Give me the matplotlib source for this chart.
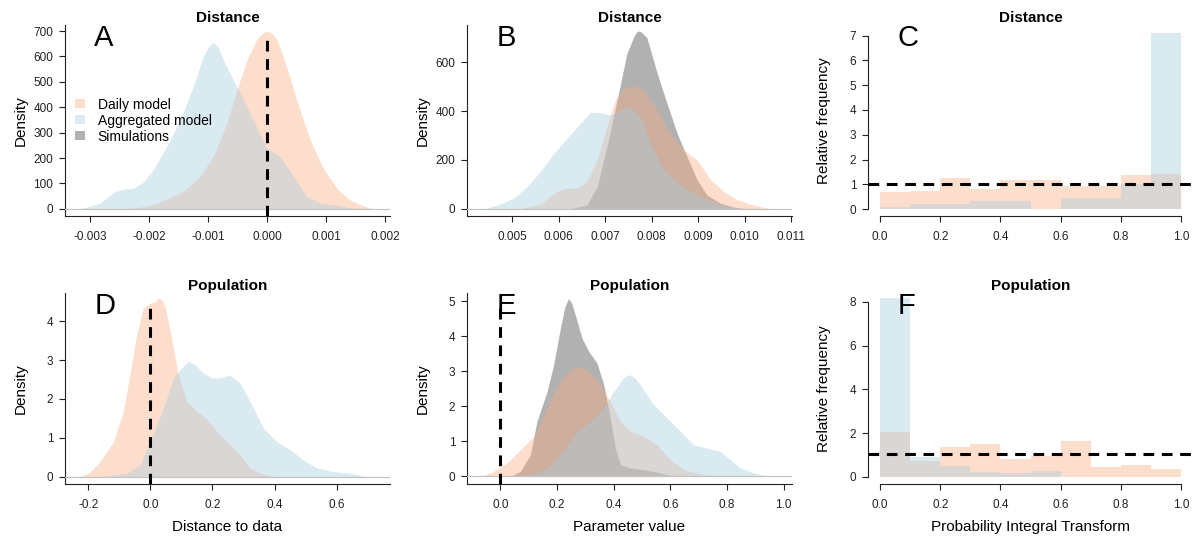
import matplotlib
matplotlib.use("Agg")
import matplotlib.pyplot as plt
from matplotlib.patches import Patch
from matplotlib.ticker import FormatStrFormatter

plt.rcParams['font.family'] = ['Liberation Sans', 'DejaVu Sans']
plt.rcParams['axes.unicode_minus'] = False

# ---- data ----
series_names = ["Daily model", "Aggregated model", "Simulations"]

# A: Distance (distance to data)
a_daily_x = [-0.00238, -0.00198, -0.0017, -0.00142, -0.00114, -0.00091, -0.00068, -0.00051, -0.00034,
             -0.00018, -0.00009, -0.00001, 0.00007, 0.00016, 0.00033, 0.0005, 0.00073, 0.00095, 0.00118,
             0.0014, 0.00163, 0.00177]
a_daily_y = [0, 12, 38, 68, 127, 206, 337, 470, 586, 664, 690, 700, 693, 671, 560, 429, 271, 160, 81, 35, 12, 0]
a_aggr_x = [-0.00317, -0.00283, -0.0026, -0.00244, -0.00227, -0.0021, -0.00193, -0.0017, -0.00147, -0.00125,
            -0.00108, -0.00099, -0.00091, -0.00083, -0.00074, -0.00057, -0.0004, -0.00018, -0.00001, 0.00022,
            0.00045, 0.00067, 0.0009, 0.00112, 0.00135, 0.00158]
a_aggr_y = [0, 22, 65, 77, 81, 104, 153, 245, 350, 481, 599, 640, 654, 638, 586, 507, 429, 324, 239, 206,
            127, 48, 22, 16, 7, 0]

# B: Distance (parameter value)
b_daily_x = [0.00518, 0.00561, 0.0059, 0.00611, 0.0064, 0.00661, 0.00683, 0.00704, 0.00722, 0.0074, 0.00762,
             0.00783, 0.00812, 0.0084, 0.00869, 0.00898, 0.00927, 0.00955, 0.00984, 0.0102, 0.01056]
b_daily_y = [0, 20, 64, 82, 85, 112, 200, 337, 446, 493, 504, 487, 405, 309, 241, 200, 119, 71, 37, 16, 0]
b_aggr_x = [0.00439, 0.00475, 0.00504, 0.00532, 0.00561, 0.0059, 0.00618, 0.00647, 0.00668, 0.0069, 0.00711,
            0.00733, 0.00754, 0.00776, 0.00797, 0.00826, 0.00855, 0.00884, 0.00912, 0.00941, 0.0097, 0.00998]
b_aggr_y = [0, 20, 44, 91, 153, 228, 289, 350, 394, 394, 384, 405, 416, 378, 269, 160, 105, 71, 44, 23, 10, 0]
b_sim_x = [0.00625, 0.00661, 0.00683, 0.00704, 0.00726, 0.00747, 0.00762, 0.00767, 0.00772, 0.00779, 0.0079,
           0.00812, 0.00833, 0.00855, 0.00876, 0.00898, 0.00919, 0.00948, 0.00977, 0.01005]
b_sim_y = [0, 16, 91, 255, 446, 637, 705, 722, 728, 722, 700, 555, 432, 309, 214, 119, 57, 23, 7, 0]

# D: Population (distance to data)
d_daily_x = [-0.227, -0.195, -0.162, -0.119, -0.087, -0.066, -0.044, -0.023, -0.001, 0.014, 0.0255, 0.037,
             0.047, 0.068, 0.09, 0.117, 0.149, 0.181, 0.213, 0.256, 0.289, 0.321, 0.364, 0.407]
d_daily_y = [0, 0.11, 0.39, 0.9, 1.68, 2.62, 3.66, 4.34, 4.47, 4.5, 4.6, 4.55, 4.39, 3.57, 2.62, 1.94, 1.68,
             1.5, 1.16, 0.82, 0.56, 0.22, 0.06, 0]
d_aggr_x = [-0.162, -0.076, -0.033, 0.009, 0.042, 0.074, 0.101, 0.122, 0.144, 0.17, 0.197, 0.224, 0.256, 0.289,
            0.321, 0.364, 0.407, 0.45, 0.493, 0.536, 0.589, 0.643, 0.697]
d_aggr_y = [0, 0.09, 0.3, 1.08, 1.76, 2.54, 2.8, 2.97, 2.88, 2.67, 2.54, 2.55, 2.61, 2.41, 1.94, 1.25, 0.9,
            0.69, 0.43, 0.22, 0.13, 0.09, 0]

# E: Population (parameter value)
e_daily_x = [-0.065, -0.024, 0.024, 0.071, 0.118, 0.153, 0.188, 0.224, 0.259, 0.288, 0.318, 0.353, 0.388,
             0.424, 0.459, 0.506, 0.553, 0.6, 0.647, 0.706, 0.765]
e_daily_y = [0, 0.14, 0.38, 0.76, 1.14, 1.76, 2.38, 2.86, 3.1, 3.11, 2.95, 2.62, 2.14, 1.57, 1.29, 1.14, 0.9,
             0.48, 0.19, 0.07, 0]
e_aggr_x = [0.047, 0.118, 0.176, 0.224, 0.271, 0.318, 0.365, 0.4, 0.435, 0.447, 0.459, 0.476, 0.494, 0.541,
            0.588, 0.635, 0.682, 0.729, 0.776, 0.812, 0.847, 0.894, 0.941]
e_aggr_y = [0, 0.07, 0.29, 0.76, 1.29, 1.57, 1.95, 2.43, 2.81, 2.88, 2.9, 2.8, 2.62, 2.05, 1.67, 1.29, 0.9,
            0.81, 0.71, 0.48, 0.24, 0.1, 0]
e_sim_x = [0.035, 0.071, 0.106, 0.129, 0.165, 0.188, 0.212, 0.228, 0.24, 0.252, 0.265, 0.288, 0.312, 0.341,
           0.365, 0.388, 0.406, 0.424, 0.459, 0.506, 0.553, 0.612]
e_sim_y = [0, 0.14, 0.62, 1.57, 2.43, 3.19, 4.24, 4.85, 5.08, 4.95, 4.6, 3.95, 3.57, 3.24, 2.62, 1.67, 0.81,
           0.33, 0.24, 0.19, 0.12, 0]

# C / F: PIT histograms, bins of 0.1
pit_edges = [0.0, 0.1, 0.2, 0.3, 0.4, 0.5, 0.6, 0.7, 0.8, 0.9]
c_daily = [0.67, 0.72, 1.25, 0.83, 1.16, 1.16, 0.95, 0.95, 1.37, 1.4]
c_aggr = [0.1, 0.22, 0.22, 0.33, 0.33, 0.0, 0.45, 0.45, 1.0, 7.1]
f_daily = [2.05, 0.75, 1.35, 1.5, 0.84, 0.97, 1.66, 0.46, 0.53, 0.37]
f_aggr = [8.17, 0.91, 0.49, 0.23, 0.2, 0.27, 0.0, 0.0, 0.0, 0.0]

observed = 0.0
uniform_c = 1.0
uniform_f = 1.05

# ---- styles ----
col_daily = (250/255, 170/255, 128/255, 0.4)
col_aggr = (168/255, 205/255, 222/255, 0.42)
col_sim = (62/255, 62/255, 62/255, 0.4)
zero_col = '#c4c4c4'
tick_fs = 8.5
lab_fs = 11

fig = plt.figure(figsize=(11.94, 5.36), dpi=100)
W, H = 1194, 536
lefts = [65, 467, 868]
tops = [25, 293]
aw, ah = 325, 191


def make_ax(row, col):
    return fig.add_axes([lefts[col] / W, (H - tops[row] - ah) / H, aw / W, ah / H])


def style(ax, title, letter, ylabel, xlabel=None):
    for s in ['top', 'right']:
        ax.spines[s].set_visible(False)
    for s in ['left', 'bottom']:
        ax.spines[s].set_linewidth(0.8)
        ax.spines[s].set_color('#222222')
    ax.tick_params(length=4.5, width=0.8, labelsize=tick_fs, colors='#222222')
    ax.tick_params(axis='x', pad=6)
    ax.tick_params(axis='y', pad=4)
    ax.set_title(title, fontsize=11, fontweight='bold', pad=1)
    ax.text(0.09, 0.93, letter, transform=ax.transAxes, fontsize=21, ha='left', va='center')
    ax.set_ylabel(ylabel, fontsize=lab_fs)
    ax.yaxis.set_label_coords(-0.115, 0.5)
    if xlabel:
        ax.set_xlabel(xlabel, fontsize=lab_fs)
        ax.xaxis.set_label_coords(0.5, -0.19)


def density_panel(ax, curves, xlim, ylim, xticks, yticks, fmt, vline_top=None):
    for (x, y, c) in curves:
        ax.fill_between(x, 0, y, color=c, linewidth=0)
    ax.axhline(0, color=zero_col, lw=0.9, zorder=3)
    if vline_top is not None:
        ax.vlines(observed, ylim[0], vline_top, colors='black', linestyles=(0, (3.5, 2.5)), lw=2.2, zorder=4)
    ax.set_xlim(xlim)
    ax.set_ylim(ylim)
    ax.set_xticks(xticks)
    ax.set_yticks(yticks)
    ax.xaxis.set_major_formatter(FormatStrFormatter(fmt))


def hist_panel(ax, daily, aggr, hline, ylim, yticks):
    ax.bar(pit_edges, daily, width=0.1, align='edge', color=col_daily, linewidth=0)
    ax.bar(pit_edges, aggr, width=0.1, align='edge', color=col_aggr, linewidth=0)
    ax.axhline(hline, color='black', linestyle=(0, (3.5, 2.5)), lw=2.2, zorder=4)
    ax.set_xlim(-0.04, 1.04)
    ax.set_ylim(ylim)
    ax.set_xticks([0, 0.2, 0.4, 0.6, 0.8, 1.0])
    ax.set_yticks(yticks)
    ax.spines['bottom'].set_bounds(0, 1)
    ax.spines['left'].set_bounds(yticks[0], yticks[-1])
    ax.xaxis.set_major_formatter(FormatStrFormatter('%.1f'))


# A
ax = make_ax(0, 0)
density_panel(ax, [(a_daily_x, a_daily_y, col_daily), (a_aggr_x, a_aggr_y, col_aggr)],
              (-0.00342, 0.00208), (-28, 724), [-0.003, -0.002, -0.001, 0, 0.001, 0.002],
              range(0, 701, 100), '%.3f', vline_top=690)
style(ax, "Distance", "A", "Density")
handles = [Patch(facecolor=col_daily, linewidth=0), Patch(facecolor=col_aggr, linewidth=0),
           Patch(facecolor=col_sim, linewidth=0)]
ax.legend(handles, series_names, loc='upper left', bbox_to_anchor=(0.03, 0.62), frameon=False,
          fontsize=10, labelspacing=0.15, handlelength=0.75, handleheight=0.6, handletextpad=0.9,
          borderpad=0, borderaxespad=0)

# B
ax = make_ax(0, 1)
density_panel(ax, [(b_sim_x, b_sim_y, col_sim), (b_daily_x, b_daily_y, col_daily), (b_aggr_x, b_aggr_y, col_aggr)],
              (0.00403, 0.01102), (-29, 752), [0.005, 0.006, 0.007, 0.008, 0.009, 0.010, 0.011],
              [0, 200, 400, 600], '%.3f')
style(ax, "Distance", "B", "Density")

# C
ax = make_ax(0, 2)
hist_panel(ax, c_daily, c_aggr, uniform_c, (-0.28, 7.43), list(range(0, 8)))
style(ax, "Distance", "C", "Relative frequency")

# D
ax = make_ax(1, 0)
density_panel(ax, [(d_daily_x, d_daily_y, col_daily), (d_aggr_x, d_aggr_y, col_aggr)],
              (-0.275, 0.772), (-0.19, 4.73), [-0.2, 0, 0.2, 0.4, 0.6], range(0, 5), '%.1f', vline_top=4.52)
style(ax, "Population", "D", "Density", "Distance to data")

# E
ax = make_ax(1, 1)
density_panel(ax, [(e_sim_x, e_sim_y, col_sim), (e_daily_x, e_daily_y, col_daily), (e_aggr_x, e_aggr_y, col_aggr)],
              (-0.118, 1.03), (-0.22, 5.24), [0, 0.2, 0.4, 0.6, 0.8, 1.0], range(0, 6), '%.1f', vline_top=5.0)
style(ax, "Population", "E", "Density", "Parameter value")

# F
ax = make_ax(1, 2)
hist_panel(ax, f_daily, f_aggr, uniform_f, (-0.32, 8.4), [0, 2, 4, 6, 8])
style(ax, "Population", "F", "Relative frequency", "Probability Integral Transform")

fig.savefig("out.png", dpi=100)
